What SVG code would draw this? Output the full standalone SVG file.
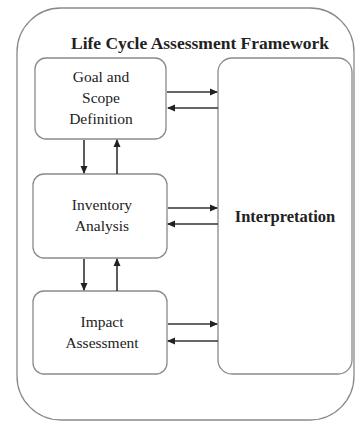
<svg xmlns="http://www.w3.org/2000/svg" width="357" height="423" viewBox="0 0 357 423">
<defs>
<marker id="ah" markerWidth="8" markerHeight="8" refX="7" refY="4" orient="auto" markerUnits="userSpaceOnUse">
<path d="M0,0.5 L8,4 L0,7.5 Z" fill="#222"/>
</marker>
<style>
.box{fill:#fff;stroke:#8a8a8a;stroke-width:1.3}
.t{font-family:"Liberation Serif","Times New Roman",serif;font-size:15.5px;fill:#222;text-anchor:middle}
.c{stroke:#333;stroke-width:1.6;fill:none;marker-end:url(#ah)}
</style>
</defs>
<rect width="357" height="423" fill="#fff"/>
<g id="frame">
<rect x="17" y="8" width="337" height="412" rx="44" ry="44" fill="#fff" stroke="#8a8a8a" stroke-width="1.3"/>
<text x="200" y="49" class="t" style="font-weight:bold;font-size:17.5px">Life Cycle Assessment Framework</text>
</g>
<g id="goal">
<rect class="box" x="35" y="58" width="131" height="81" rx="11"/>
<text class="t" x="101" y="82">Goal and</text>
<text class="t" x="101" y="103">Scope</text>
<text class="t" x="101" y="124">Definition</text>
</g>
<g id="inventory">
<rect class="box" x="33" y="174" width="134" height="84" rx="11"/>
<text class="t" x="102" y="210">Inventory</text>
<text class="t" x="102" y="231">Analysis</text>
</g>
<g id="impact">
<rect class="box" x="33" y="291" width="134" height="83" rx="11"/>
<text class="t" x="102" y="327">Impact</text>
<text class="t" x="102" y="348">Assessment</text>
</g>
<g id="interpretation">
<rect class="box" x="218" y="58" width="134" height="316" rx="14"/>
<text class="t" x="285" y="222" style="font-weight:bold;font-size:16.5px">Interpretation</text>
</g>
<g id="connectors">
<line class="c" x1="167" y1="92" x2="217" y2="92"/>
<line class="c" x1="218" y1="108" x2="168" y2="108"/>
<line class="c" x1="168" y1="208" x2="217" y2="208"/>
<line class="c" x1="218" y1="224" x2="168" y2="224"/>
<line class="c" x1="168" y1="324" x2="217" y2="324"/>
<line class="c" x1="218" y1="341" x2="168" y2="341"/>
<line class="c" x1="84" y1="140" x2="84" y2="173"/>
<line class="c" x1="117" y1="174" x2="117" y2="140"/>
<line class="c" x1="84" y1="259" x2="84" y2="290"/>
<line class="c" x1="117" y1="291" x2="117" y2="259"/>
</g>
</svg>
